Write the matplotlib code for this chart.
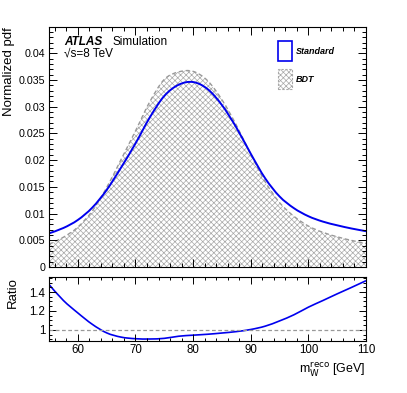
import numpy as np
import matplotlib
matplotlib.use("Agg")
import matplotlib.pyplot as plt
from matplotlib.patches import Rectangle, PathPatch
from matplotlib.path import Path
from matplotlib.ticker import MultipleLocator, FixedLocator

# ---- data ----
mass = [55, 57.5, 60, 62.5, 65, 67.5, 70, 72.5, 75, 77.5, 80, 82.5, 85,
        87.5, 90, 92.5, 95, 97.5, 100, 102.5, 105, 107.5, 110]
standard = [0.0063, 0.0073, 0.0088, 0.0111, 0.0144, 0.0186, 0.0231, 0.0280,
            0.0320, 0.0341, 0.0346, 0.0333, 0.0303, 0.0261, 0.0212, 0.0166,
            0.0132, 0.0110, 0.0095, 0.0085, 0.0078, 0.0072, 0.0067]
bdt = [0.00426, 0.00557, 0.00746, 0.01047, 0.01485, 0.02011, 0.02544, 0.03094,
       0.03509, 0.03650, 0.03660, 0.03487, 0.03130, 0.02655, 0.02109, 0.01596,
       0.01205, 0.00948, 0.00766, 0.00649, 0.00565, 0.00497, 0.00441]
main_yticks = [0, 0.005, 0.01, 0.015, 0.02, 0.025, 0.03, 0.035, 0.04]
main_yticklabels = ["0", "0.005", "0.01", "0.015", "0.02", "0.025", "0.03", "0.035", "0.04"]
ratio_yticks = [1.0, 1.2, 1.4]
ratio_yticklabels = ["1", "1.2", "1.4"]
xticks = [60, 70, 80, 90, 100, 110]

mass_a = np.array(mass)
std_a = np.array(standard)
bdt_a = np.array(bdt)
ratio = std_a / bdt_a


def smooth_path(x, y, close_to=None):
    """Smooth Bezier path (Catmull-Rom control points) through the data points."""
    pts = np.column_stack([x, y])
    n = len(pts)
    verts = [tuple(pts[0])]
    codes = [Path.MOVETO]
    for i in range(n - 1):
        p0 = pts[max(i - 1, 0)]
        p1 = pts[i]
        p2 = pts[i + 1]
        p3 = pts[min(i + 2, n - 1)]
        c1 = p1 + (p2 - p0) / 6.0
        c2 = p2 - (p3 - p1) / 6.0
        verts += [tuple(c1), tuple(c2), tuple(p2)]
        codes += [Path.CURVE4] * 3
    if close_to is not None:
        verts += [(x[-1], close_to), (x[0], close_to), tuple(pts[0])]
        codes += [Path.LINETO, Path.LINETO, Path.CLOSEPOLY]
    return Path(verts, codes)


plt.rcParams['font.family'] = ['Liberation Sans', 'DejaVu Sans']
plt.rcParams['hatch.linewidth'] = 0.5
plt.rcParams['hatch.color'] = '#a8a8a8'

fig = plt.figure(figsize=(4.07, 3.93), dpi=100)
L, W = 49/407, 317/407
ax = fig.add_axes([L, 1-267/393, W, 240/393])
axr = fig.add_axes([L, 1-341/393, W, 64/393])


def style(a, lsize):
    a.tick_params(which='both', direction='in', top=True, right=True,
                  width=0.7, colors='black', labelsize=lsize, pad=2.5)
    a.tick_params(which='major', length=6)
    a.tick_params(which='minor', length=3)
    for s in a.spines.values():
        s.set_linewidth(0.8)


# main panel
ax.add_patch(PathPatch(smooth_path(mass_a, bdt_a, close_to=0.0),
                       facecolor='white', edgecolor='#a8a8a8',
                       hatch='xxxxxx', linewidth=0))
ax.add_patch(PathPatch(smooth_path(mass_a, bdt_a), facecolor='none',
                       edgecolor='#999999', lw=1.0, ls=(0, (3, 2))))
ax.add_patch(PathPatch(smooth_path(mass_a, std_a), facecolor='none',
                       edgecolor='#0000ee', lw=1.4))
ax.set_xlim(55, 110)
ax.set_ylim(0, 0.0449)
ax.xaxis.set_major_locator(FixedLocator(xticks))
ax.xaxis.set_minor_locator(MultipleLocator(2))
ax.set_yticks(main_yticks)
ax.set_yticklabels(main_yticklabels)
ax.yaxis.set_minor_locator(MultipleLocator(0.001))
style(ax, 7.7)
ax.tick_params(labelbottom=False)
ax.set_ylabel("Normalized pdf", fontsize=9.5, loc='top', labelpad=3)

ax.text(0.047, 0.9375, "ATLAS", transform=ax.transAxes, fontsize=8.5,
        fontweight='bold', fontstyle='italic', va='center', ha='left')
ax.text(0.199, 0.9375, "Simulation", transform=ax.transAxes, fontsize=8.5,
        va='center', ha='left')
ax.text(0.047, 0.89, "\u221as=8 TeV", transform=ax.transAxes, fontsize=8.5,
        va='center', ha='left')

# legend
ax.add_patch(Rectangle((0.7215, 0.858), 0.046, 0.0837, transform=ax.transAxes,
                       facecolor='white', edgecolor='#0000ee', lw=1.2))
ax.add_patch(Rectangle((0.7215, 0.7417), 0.046, 0.0833, transform=ax.transAxes,
                       facecolor='white', edgecolor='#a8a8a8', hatch='xxxxxx',
                       lw=0.8, ls=(0, (2, 1.5))))
ax.text(0.779, 0.90, "Standard", transform=ax.transAxes, fontsize=6.5,
        fontweight='bold', fontstyle='italic', va='center', ha='left')
ax.text(0.779, 0.783, "BDT", transform=ax.transAxes, fontsize=6.5,
        fontweight='bold', fontstyle='italic', va='center', ha='left')

# ratio panel
axr.axhline(1.0, color='#999999', lw=0.9, ls=(0, (3, 2)))
axr.add_patch(PathPatch(smooth_path(mass_a, ratio), facecolor='none',
                        edgecolor='#0000ee', lw=1.2))
axr.set_xlim(55, 110)
axr.set_ylim(0.884, 1.558)
axr.xaxis.set_major_locator(FixedLocator(xticks))
axr.xaxis.set_minor_locator(MultipleLocator(2))
axr.set_yticks(ratio_yticks)
axr.set_yticklabels(ratio_yticklabels)
axr.yaxis.set_minor_locator(MultipleLocator(0.05))
style(axr, 8.3)
axr.tick_params(which='major', length=5)
axr.tick_params(which='minor', length=2.5)
axr.tick_params(axis='x', pad=2)
axr.set_ylabel("Ratio", fontsize=9.5, loc='top', labelpad=8)
axr.set_xlabel(r"m$_{\rm W}^{\rm reco}$ [GeV]", fontsize=9, loc='right',
               labelpad=3)

fig.savefig("out.png", dpi=100)
